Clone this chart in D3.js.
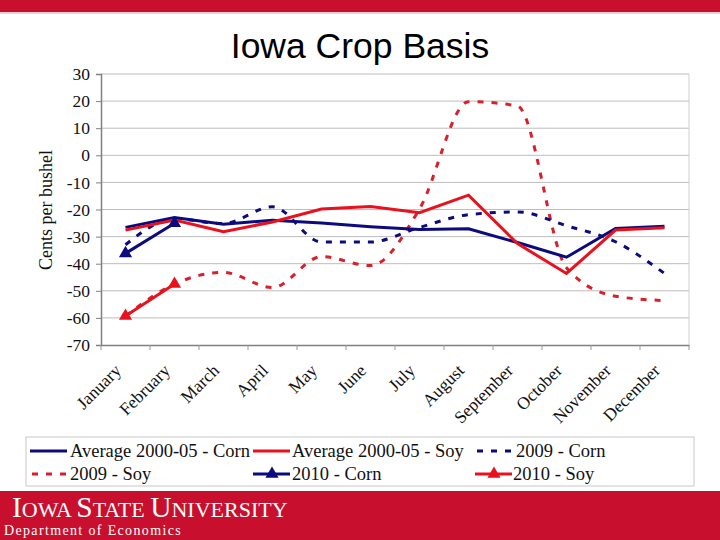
<!DOCTYPE html>
<html><head><meta charset="utf-8">
<script src="https://cdn.jsdelivr.net/npm/d3@7"></script>
<style>html,body{margin:0;padding:0;background:#fff;}svg{display:block;}</style>
</head><body>
<svg id="chart" width="720" height="540"></svg>
<script>
const months = ["January","February","March","April","May","June","July","August","September","October","November","December"];
const yTicks = [30,20,10,0,-10,-20,-30,-40,-50,-60,-70];
const avgCorn = [-26.6,-23,-25.4,-24,-25,-26.4,-27.4,-27.1,-32.2,-37.6,-27,-26.2];
const avgSoy  = [-27.6,-23.9,-28.2,-24.6,-19.8,-18.9,-21.2,-14.7,-32.6,-43.6,-27.6,-26.7];
const corn2009 = [-33,-23.5,-25.2,-19,-32,-32,-26.6,-21.9,-20.9,-26,-31.9,-43.6];
const soy2009  = [-59.3,-47.5,-43.2,-48.8,-37.4,-40.7,-19.8,19.8,18.2,-41.5,-52,-53.6];
const corn2010 = [-36.2,-25.1];
const soy2010  = [-59.3,-47.5];
const title = "Iowa Crop Basis";
const yLabel = "Cents per bushel";

const NAVY = "#0b0b7e", RED = "#e8121e", DRED = "#d8202c", UNI = "#c8102e";
const SERIF = "'Liberation Serif', 'Times New Roman', serif";
const svg = d3.select("#chart");

// top band
svg.append("rect").attr("x",0).attr("y",0).attr("width",720).attr("height",12).attr("fill",UNI);
svg.append("rect").attr("x",0).attr("y",12).attr("width",720).attr("height",2).attr("fill","#f4d0d4");

svg.append("text").attr("x",360).attr("y",58).attr("text-anchor","middle")
  .attr("font-family","'Liberation Sans', Arial, sans-serif").attr("font-size",35.5).attr("fill","#000").text(title);

const x = d3.scaleBand().domain(months).range([101,689]).paddingInner(0).paddingOuter(0);
const y = d3.scaleLinear().domain([-70,30]).range([345,74]);
const cx = m => x(m) + x.bandwidth()/2;

// grid
svg.append("g").selectAll("line").data(yTicks.filter(v=>v>-70)).join("line")
  .attr("x1",101).attr("x2",689).attr("y1",d=>y(d)).attr("y2",d=>y(d))
  .attr("stroke","#bdbdbd").attr("stroke-width",1);
svg.append("line").attr("x1",689).attr("x2",689).attr("y1",y(30)).attr("y2",y(-70)).attr("stroke","#cfcfcf");

// y axis
const yAxis = d3.axisLeft(y).tickValues(yTicks).tickSize(5).tickPadding(6).tickFormat(d=>String(d));
const gy = svg.append("g").attr("transform","translate(101,0)").call(yAxis)
  .attr("font-family",SERIF).attr("font-size",17.5);
gy.select(".domain").attr("stroke","#808080").attr("stroke-width",1.5);
gy.selectAll(".tick line").attr("stroke","#808080");
gy.selectAll(".tick text").style("font-family",SERIF).style("font-size","17.5px").attr("fill","#111");

// x axis
const xAxis = d3.axisBottom(x).tickSize(0).tickFormat("");
const gx = svg.append("g").attr("transform","translate(0,345)").call(xAxis);
gx.select(".domain").attr("stroke","#808080").attr("stroke-width",1.5);
svg.append("g").selectAll("line").data(months).join("line")
  .attr("x1",d=>x(d)).attr("x2",d=>x(d)).attr("y1",345).attr("y2",350).attr("stroke","#9a9a9a");
svg.append("line").attr("x1",689).attr("x2",689).attr("y1",345).attr("y2",350).attr("stroke","#9a9a9a");

svg.append("g").selectAll("text").data(months).join("text")
  .attr("transform",d=>`translate(${cx(d)-12},${363}) rotate(-45)`)
  .attr("text-anchor","end").attr("dy","0.7em")
  .attr("font-family",SERIF).attr("font-size",17.5).attr("fill","#111")
  .text(d=>d);

svg.append("text").attr("transform","translate(52,210) rotate(-90)").attr("text-anchor","middle")
  .attr("font-family",SERIF).attr("font-size",18).attr("fill","#111").text(yLabel);

// lines
const straight = d3.line().x((d,i)=>cx(months[i])).y(d=>y(d));
const smooth = d3.line().x((d,i)=>cx(months[i])).y(d=>y(d)).curve(d3.curveMonotoneX);
const plot = svg.append("g");
plot.append("path").attr("d",smooth(soy2009)).attr("fill","none").attr("stroke",DRED).attr("stroke-width",3).attr("stroke-dasharray","6,8");
plot.append("path").attr("d",smooth(corn2009)).attr("fill","none").attr("stroke",NAVY).attr("stroke-width",3).attr("stroke-dasharray","6,8");
plot.append("path").attr("d",straight(avgCorn)).attr("fill","none").attr("stroke",NAVY).attr("stroke-width",3);
plot.append("path").attr("d",straight(avgSoy)).attr("fill","none").attr("stroke",RED).attr("stroke-width",3);
plot.append("path").attr("d",straight(corn2010)).attr("fill","none").attr("stroke",NAVY).attr("stroke-width",3);
plot.append("path").attr("d",straight(soy2010)).attr("fill","none").attr("stroke",RED).attr("stroke-width",3);
const tri = d3.symbol().type(d3.symbolTriangle).size(75);
plot.append("g").selectAll("path").data(corn2010).join("path")
  .attr("transform",(d,i)=>`translate(${cx(months[i])},${y(d)})`).attr("d",tri).attr("fill",NAVY);
plot.append("g").selectAll("path").data(soy2010).join("path")
  .attr("transform",(d,i)=>`translate(${cx(months[i])},${y(d)})`).attr("d",tri).attr("fill",RED);

// legend
const lg = svg.append("g");
lg.append("rect").attr("x",26).attr("y",437).attr("width",668).attr("height",49).attr("fill","#fff").attr("stroke","#c8c8c8");
const legendItems = [
  {label:"Average 2000-05 - Corn", color:NAVY, dash:false, marker:false, x0:30, tx:70, row:0},
  {label:"Average 2000-05 - Soy", color:RED, dash:false, marker:false, x0:253, tx:292, row:0},
  {label:"2009 - Corn", color:NAVY, dash:true, marker:false, x0:475, tx:516, row:0},
  {label:"2009 - Soy", color:DRED, dash:true, marker:false, x0:30, tx:70, row:1},
  {label:"2010 - Corn", color:NAVY, dash:false, marker:true, x0:253, tx:292, row:1},
  {label:"2010 - Soy", color:RED, dash:false, marker:true, x0:475, tx:513, row:1}
];
legendItems.forEach(it=>{
  const yy = 451 + it.row*23;
  const l = lg.append("line").attr("x1",it.x0).attr("x2",it.x0+37).attr("y1",yy).attr("y2",yy)
    .attr("stroke",it.color).attr("stroke-width",3);
  if (it.dash) l.attr("stroke-dasharray","6,8").attr("x1",it.x0+2);
  if (it.marker) lg.append("path").attr("transform",`translate(${it.x0+19},${yy})`).attr("d",tri).attr("fill",it.color);
  lg.append("text").attr("x",it.tx).attr("y",yy).attr("dy","0.35em")
    .attr("font-family",SERIF).attr("font-size",18.5).attr("fill","#111").text(it.label);
});

// footer
svg.append("rect").attr("x",0).attr("y",491).attr("width",720).attr("height",49).attr("fill",UNI);
const ft = svg.append("text").attr("x",12).attr("y",517).attr("fill","#fff")
  .attr("font-family",SERIF).attr("font-size",22);
[["I",29.5],["OWA ",22],["S",29.5],["TATE ",22],["U",29.5],["NIVERSITY",22]].forEach(p=>{
  ft.append("tspan").attr("font-size",p[1]).text(p[0]);
});
svg.append("text").attr("x",4).attr("y",535).attr("fill","#fff")
  .attr("font-family",SERIF).attr("font-size",14).attr("letter-spacing",1.35)
  .text("Department of Economics");
</script>
</body></html>
